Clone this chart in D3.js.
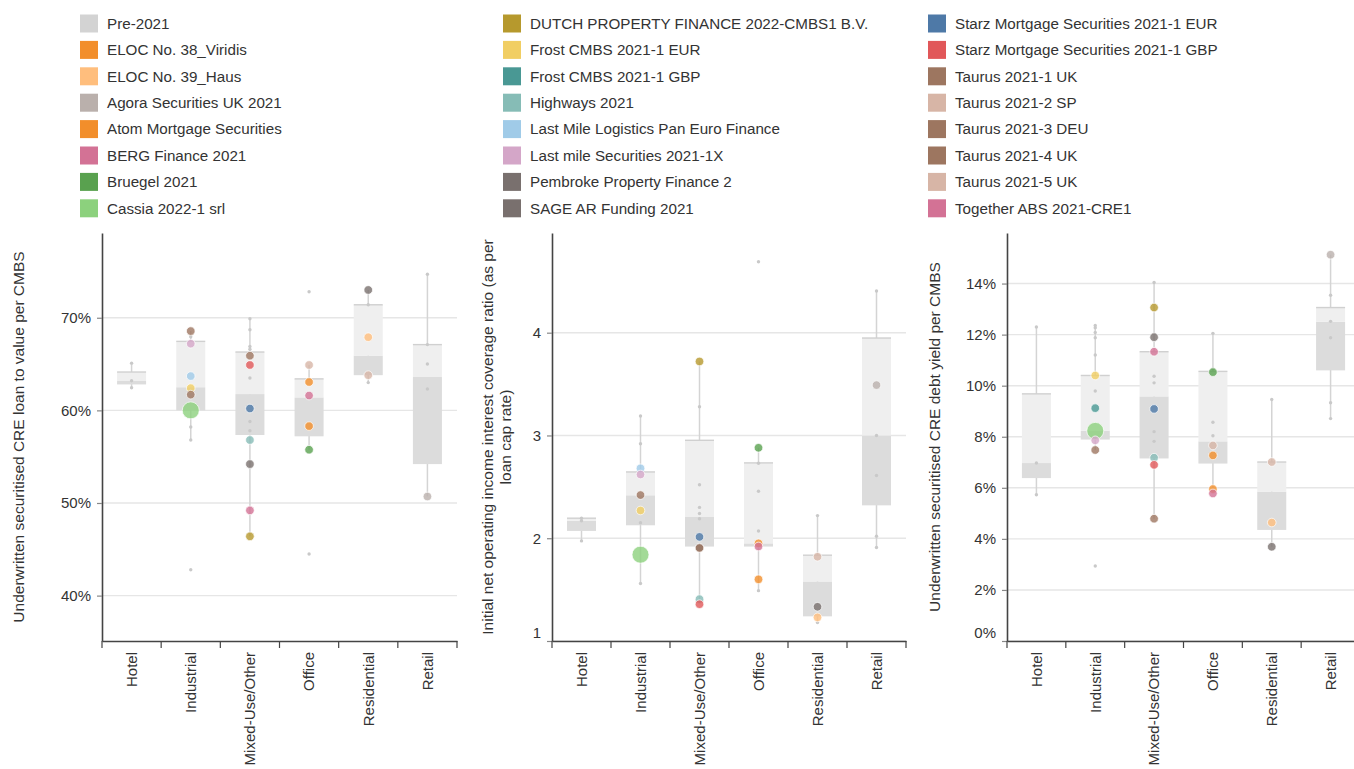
<!DOCTYPE html>
<html>
<head>
<meta charset="utf-8">
<script src="https://cdn.jsdelivr.net/npm/d3@7"></script>
<style>
  body { margin: 0; background: #fff; }
  text { font-family: "Liberation Sans", Arial, sans-serif; fill: #333; }
</style>
</head>
<body>
<script>
// categories on every x axis
var categories = ["Hotel", "Industrial", "Mixed-Use/Other", "Office", "Residential", "Retail"];

// box stats per category: [whisker low, q1, median, q3, whisker high]
var ltvBoxes = [
  [62.45, 62.8, 63.17, 64.14, 65.1],
  [56.8, 60.0, 62.5, 67.45, 68.56],
  [46.4, 57.34, 61.76, 66.3, 69.86],
  [55.75, 57.2, 61.4, 63.4, 64.9],
  [63.0, 63.8, 65.9, 71.4, 73.0],
  [50.7, 54.2, 63.6, 67.1, 74.7]
];
var icrBoxes = [
  [1.974, 2.071, 2.17, 2.195, 2.195],
  [1.56, 2.126, 2.418, 2.645, 3.19],
  [1.358, 1.919, 2.207, 2.953, 3.72],
  [1.49, 1.919, 1.95, 2.733, 2.88],
  [1.18, 1.24, 1.579, 1.835, 2.22],
  [1.91, 2.32, 3.0, 3.948, 4.405]
];
var dyBoxes = [
  [5.73, 6.38, 6.97, 9.68, 12.31],
  [7.48, 7.89, 8.23, 10.4, 12.36],
  [4.79, 7.15, 9.58, 11.33, 14.04],
  [5.77, 6.95, 7.82, 10.56, 12.05],
  [3.69, 4.35, 5.85, 7.01, 9.46],
  [8.71, 10.6, 12.5, 13.06, 15.13]
];

// pre-2021 deals: [category index, value]
var preLtv = [
  [0, 65.1], [0, 63.2], [0, 62.45],
  [1, 67.95], [1, 58.2], [1, 56.8], [1, 42.8],
  [2, 69.9], [2, 68.7], [2, 66.9], [2, 66.6], [2, 63.5], [2, 58.8], [2, 57.8],
  [3, 72.8], [3, 44.5],
  [4, 71.4], [4, 63.0],
  [5, 74.7], [5, 67.1], [5, 65.0], [5, 62.3]
];
var preIcr = [
  [0, 2.195], [0, 2.17], [0, 1.974],
  [1, 3.19], [1, 2.92], [1, 2.15], [1, 1.56],
  [2, 3.28], [2, 2.52], [2, 2.30], [2, 2.24], [2, 2.19],
  [3, 4.69], [3, 2.73], [3, 2.457], [3, 2.07], [3, 1.49],
  [4, 2.22], [4, 1.18],
  [5, 4.405], [5, 3.0], [5, 2.61], [5, 2.02], [5, 1.91]
];
var preDy = [
  [0, 12.3], [0, 6.97], [0, 5.73],
  [1, 12.36], [1, 12.27], [1, 12.08], [1, 11.88], [1, 11.2], [1, 9.79], [1, 2.94],
  [2, 14.04], [2, 10.37], [2, 10.11], [2, 8.2], [2, 7.82],
  [3, 12.05], [3, 10.66], [3, 8.57], [3, 8.04],
  [4, 9.46],
  [5, 13.54], [5, 12.52], [5, 11.88], [5, 9.33], [5, 8.71]
];

// 2021+ deals
var dealNames = ["ELOC No. 38_Viridis", "ELOC No. 39_Haus", "Agora Securities UK 2021", "Atom Mortgage Securities",
  "BERG Finance 2021", "Bruegel 2021", "Cassia 2022-1 srl", "DUTCH PROPERTY FINANCE 2022-CMBS1 B.V.",
  "Frost CMBS 2021-1 EUR", "Frost CMBS 2021-1 GBP", "Highways 2021", "Last Mile Logistics Pan Euro Finance",
  "Last mile Securities 2021-1X", "Pembroke Property Finance 2", "SAGE AR Funding 2021", "Starz Mortgage Securities 2021-1 EUR",
  "Starz Mortgage Securities 2021-1 GBP", "Taurus 2021-1 UK", "Taurus 2021-2 SP", "Taurus 2021-3 DEU",
  "Taurus 2021-4 UK", "Taurus 2021-5 UK", "Together ABS 2021-CRE1"];
var dealColors = ["#f28e2b", "#ffbe7d", "#bab0ac", "#f28e2b", "#d37295", "#59a14f", "#8cd17d", "#b6992d",
  "#f1ce63", "#499894", "#86bcb6", "#a0cbe8", "#d4a6c8", "#79706e", "#79706e", "#4e79a7",
  "#e15759", "#9d7660", "#d7b5a6", "#9d7660", "#9d7660", "#d7b5a6", "#d37295"];
var dealCategory = [3, 4, 5, 3, 2, 3, 1, 2, 1, 1, 2, 1, 1, 2, 4, 2, 2, 1, 3, 1, 2, 4, 3];
var dealLtv = [58.3, 67.9, 50.7, 63.06, 49.2, 55.75, 60.0, 46.4, 62.4, null, 56.8, 63.7, 67.2, 54.2, 73.0, 60.2,
  64.9, 68.56, 64.9, 61.7, 65.9, 63.8, 61.6];
var dealIcr = [1.60, 1.23, 3.49, 1.95, null, 2.88, 1.84, 3.72, 2.27, null, 1.407, 2.68, 2.62, 1.91, 1.333, 2.013,
  1.358, 2.42, null, null, 1.905, 1.82, 1.92];
var dealDy = [5.95, 4.64, 15.13, 7.27, 11.33, 10.53, 8.23, 13.06, 10.4, 9.12, 7.18, null, 7.86, 11.9, 3.69, 9.09,
  6.9, 7.48, 7.66, null, 4.79, 7.01, 5.78];

var preLabel = "Pre-2021", preColor = "#d3d3d3";

// axis ticks
var ltvTicks = [40, 50, 60, 70];
var icrTicks = [1, 2, 3, 4];
var dyTicks = [0, 2, 4, 6, 8, 10, 12, 14];

var width = 1354, height = 769;
var plotTop = 233, plotBottom = 641;
var boxWidth = 29;
var highlight = "Cassia 2022-1 srl";

var svg = d3.select("body").append("svg")
    .attr("width", width)
    .attr("height", height);

// legend, 3 columns of 8
var legendNames = [preLabel].concat(dealNames);
var legendColors = [preColor].concat(dealColors);
var legendX = [80, 503, 928];

var legend = svg.append("g").selectAll("g")
    .data(legendNames)
  .enter().append("g")
    .attr("transform", function(d, i) {
      return "translate(" + legendX[Math.floor(i / 8)] + "," + (23.5 + (i % 8) * 26.4) + ")";
    });
legend.append("rect")
    .attr("y", -9)
    .attr("width", 18)
    .attr("height", 18)
    .style("fill", function(d, i) { return legendColors[i]; });
legend.append("text")
    .attr("x", 27)
    .attr("dy", "0.35em")
    .style("font-size", "15.2px")
    .text(function(d) { return d; });

var panels = [
  {left: 102, right: 457, domain: [35.1, 79.15], ticks: ltvTicks, fmt: function(d) { return d + "%"; },
   boxes: ltvBoxes, pre: preLtv, deals: dealLtv,
   title: ["Underwritten securitised CRE loan to value per CMBS"], titleX: [19]},
  {left: 552, right: 906, domain: [1, 4.97], ticks: icrTicks, fmt: d3.format("d"),
   boxes: icrBoxes, pre: preIcr, deals: dealIcr,
   title: ["Initial net operating income interest coverage ratio (as per", "loan cap rate)"], titleX: [487.5, 505.5]},
  {left: 1007, right: 1360, domain: [0, 15.98], ticks: dyTicks, fmt: function(d) { return d + "%"; },
   boxes: dyBoxes, pre: preDy, deals: dealDy,
   title: ["Underwritten securitised CRE debt yield per CMBS"], titleX: [935]}
];

panels.forEach(drawPanel);

function drawPanel(p) {
  var x = d3.scaleBand().domain(categories).range([p.left, p.right]);
  var y = d3.scaleLinear().domain(p.domain).range([plotBottom, plotTop]);
  var cx = function(i) { return x(categories[i]) + x.bandwidth() / 2; };

  var g = svg.append("g");

  // gridlines
  g.selectAll(".grid")
      .data(p.ticks)
    .enter().append("line")
      .attr("x1", p.left)
      .attr("x2", p.right)
      .attr("y1", function(d) { return y(d); })
      .attr("y2", function(d) { return y(d); })
      .style("stroke", "#e6e6e6")
      .style("stroke-width", 1.4);

  // whiskers
  g.selectAll(".whisker")
      .data(p.boxes)
    .enter().append("line")
      .attr("x1", function(d, i) { return cx(i); })
      .attr("x2", function(d, i) { return cx(i); })
      .attr("y1", function(d) { return y(d[0]); })
      .attr("y2", function(d) { return y(d[4]); })
      .style("stroke", "#d4d4d4")
      .style("stroke-width", 1.5);

  // lower half of box (q1 - median)
  g.selectAll(".lower")
      .data(p.boxes)
    .enter().append("rect")
      .attr("x", function(d, i) { return cx(i) - boxWidth / 2; })
      .attr("width", boxWidth)
      .attr("y", function(d) { return y(d[2]); })
      .attr("height", function(d) { return y(d[1]) - y(d[2]); })
      .style("fill", "#dcdcdc");

  // upper half of box (median - q3)
  g.selectAll(".upper")
      .data(p.boxes)
    .enter().append("rect")
      .attr("x", function(d, i) { return cx(i) - boxWidth / 2; })
      .attr("width", boxWidth)
      .attr("y", function(d) { return y(d[3]); })
      .attr("height", function(d) { return y(d[2]) - y(d[3]); })
      .style("fill", "#efefef");

  g.selectAll(".q3")
      .data(p.boxes)
    .enter().append("line")
      .attr("x1", function(d, i) { return cx(i) - boxWidth / 2; })
      .attr("x2", function(d, i) { return cx(i) + boxWidth / 2; })
      .attr("y1", function(d) { return y(d[3]); })
      .attr("y2", function(d) { return y(d[3]); })
      .style("stroke", "#d0d0d0")
      .style("stroke-width", 1.4);

  // pre-2021 points
  g.selectAll(".pre")
      .data(p.pre)
    .enter().append("circle")
      .attr("cx", function(d) { return cx(d[0]); })
      .attr("cy", function(d) { return y(d[1]); })
      .attr("r", 1.7)
      .style("fill", "#c9c9c9");

  // named deals
  var deals = dealNames.map(function(name, i) {
    return {name: name, color: dealColors[i], cat: dealCategory[i], value: p.deals[i]};
  }).filter(function(d) { return d.value != null; });

  g.selectAll(".deal")
      .data(deals)
    .enter().append("circle")
      .attr("cx", function(d) { return cx(d.cat); })
      .attr("cy", function(d) { return y(d.value); })
      .attr("r", function(d) { return d.name == highlight ? 8.5 : 4.3; })
      .style("fill", function(d) { return d.color; })
      .style("fill-opacity", 0.8)
      .style("stroke", "#fff")
      .style("stroke-opacity", 0.7)
      .style("stroke-width", 1);

  // y axis
  var yAxis = g.append("g")
      .attr("transform", "translate(" + p.left + ",0)")
      .call(d3.axisLeft(y).tickValues(p.ticks).tickFormat(p.fmt).tickSize(5).tickSizeOuter(0).tickPadding(6));
  yAxis.select(".domain").style("stroke", "#444").style("stroke-width", 1.6);
  yAxis.selectAll(".tick line").style("stroke", "#888").style("stroke-width", 1.2);
  yAxis.selectAll(".tick text")
      .style("font-size", "15px")
      .attr("fill", null)
      .attr("dy", function(d) { return d == p.domain[0] ? "-0.25em" : "0.32em"; });
  yAxis.attr("font-family", null).attr("font-size", null);

  // x axis
  var xAxis = g.append("g")
      .attr("transform", "translate(0," + plotBottom + ")")
      .call(d3.axisBottom(x).tickSize(0).tickSizeOuter(0));
  xAxis.attr("font-family", null).attr("font-size", null);
  xAxis.select(".domain").style("stroke", "#444").style("stroke-width", 1.6);
  xAxis.selectAll(".tick text")
      .attr("fill", null)
      .attr("transform", "rotate(-90)")
      .attr("text-anchor", "end")
      .attr("x", -11)
      .attr("y", 0)
      .attr("dy", "0.35em")
      .style("font-size", "15px");

  // ticks between bands
  xAxis.selectAll(".edge")
      .data(d3.range(categories.length + 1))
    .enter().append("line")
      .attr("x1", function(i) { return p.left + i * x.step(); })
      .attr("x2", function(i) { return p.left + i * x.step(); })
      .attr("y1", 0)
      .attr("y2", 7)
      .style("stroke", "#444")
      .style("stroke-width", 1.2);

  // y axis title
  var midY = (plotTop + plotBottom) / 2;
  p.title.forEach(function(line, k) {
    g.append("text")
        .attr("transform", "translate(" + p.titleX[k] + "," + midY + ") rotate(-90)")
        .attr("text-anchor", "middle")
        .attr("dy", "0.35em")
        .style("font-size", "15.5px")
        .text(line);
  });
}
</script>
</body>
</html>
